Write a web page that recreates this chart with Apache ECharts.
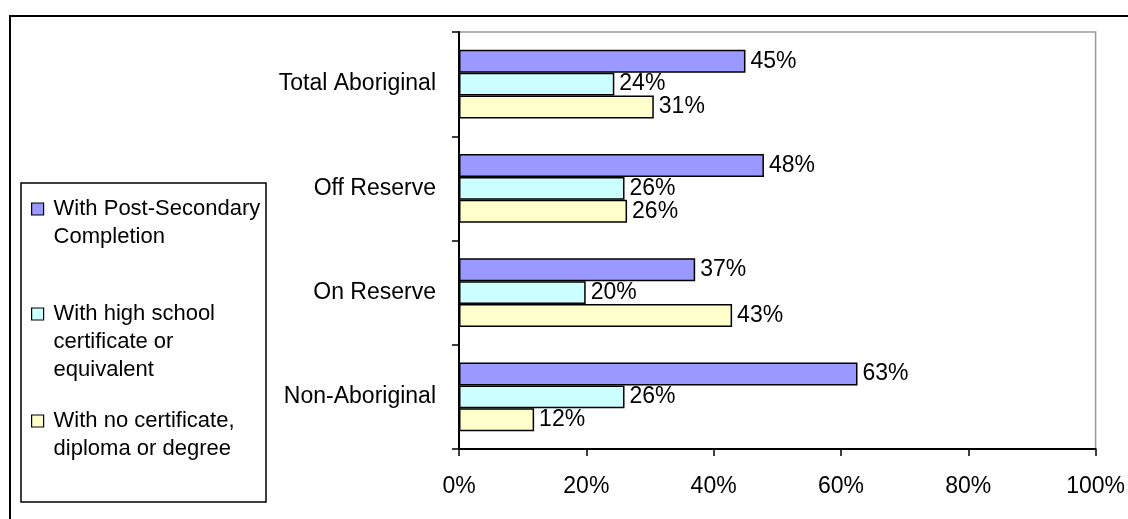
<!DOCTYPE html>
<html>
<head>
<meta charset="utf-8">
<script src="https://cdn.jsdelivr.net/npm/echarts@6/dist/echarts.min.js"></script>
<style>
  html, body { margin: 0; padding: 0; background: #fff; }
  #main { width: 1128px; height: 519px; }
</style>
</head>
<body>
<div id="main"></div>
<script>
var myChart = echarts.init(document.getElementById("main"));

// categories, top to bottom
var categories = ['Total Aboriginal', 'Off Reserve', 'On Reserve', 'Non-Aboriginal'];
var xTicks = [0, 20, 40, 60, 80, 100];

// percent values
var postSecondary = [45.0, 47.9, 37.1, 62.6];
var highSchool = [24.4, 26.0, 19.9, 26.0];
var noCertificate = [30.6, 26.4, 42.9, 11.8];

var seriesNames = [
    'With Post-Secondary\nCompletion',
    'With high school\ncertificate or\nequivalent',
    'With no certificate,\ndiploma or degree'
];
var colorList = ['#9999ff', '#ccffff', '#ffffcc'];

var fontName = '"Liberation Sans", Arial, sans-serif';
var fs = 23;

function makeSeries(i, values) {
    return {
        name: seriesNames[i],
        type: 'bar',
        data: values,
        barGap: '0%',
        barCategoryGap: '34%',
        itemStyle: {
            color: colorList[i],
            borderColor: '#000',
            borderWidth: 1.5
        },
        label: {
            show: true,
            position: 'right',
            distance: 5,
            color: '#000',
            fontSize: fs,
            fontFamily: fontName,
            formatter: function(p) {
                return Math.round(p.value) + '%';
            }
        },
        animation: false
    };
}

// one legend per entry; blank lines in front keep the icon on the first text line
var iconCenters = [209, 314, 421];
var lineH = 28;
var legends = seriesNames.map(function(name, i) {
    var lines = name.split('\n').length;
    return {
        orient: 'vertical',
        left: 31,
        top: iconCenters[i] - (2 * lines - 1) * lineH / 2,
        padding: 0,
        itemWidth: 12,
        itemHeight: 12,
        icon: 'rect',
        selectedMode: false,
        data: [{
            name: name,
            itemStyle: { color: colorList[i], borderColor: '#000', borderWidth: 1.2 }
        }],
        formatter: function(n) {
            return new Array(lines).join('\n') + n;
        },
        textStyle: {
            color: '#000',
            fontSize: 22,
            fontFamily: fontName,
            lineHeight: lineH,
            padding: [0, 0, 0, 5]
        }
    };
});

var option = {
    backgroundColor: '#fff',
    animation: false,
    graphic: [{
        // outer chart border, runs off the right and bottom edges
        type: 'rect',
        shape: { x: 10, y: 16, width: 1300, height: 700 },
        style: { fill: 'none', stroke: '#000', lineWidth: 2 },
        silent: true
    }, {
        // legend box
        type: 'rect',
        shape: { x: 21, y: 183, width: 245, height: 319 },
        style: { fill: 'none', stroke: '#000', lineWidth: 1.5 },
        silent: true
    }],
    legend: legends,
    grid: {
        left: 459,
        right: 31,
        top: 32,
        bottom: 70,
        show: true,
        borderColor: '#999',
        borderWidth: 1.5,
        backgroundColor: 'transparent'
    },
    xAxis: {
        type: 'value',
        min: xTicks[0],
        max: xTicks[xTicks.length - 1],
        interval: 20,
        axisLine: { show: true, lineStyle: { color: '#000', width: 2 } },
        axisTick: { show: true, length: 7, lineStyle: { color: '#000', width: 1.5 } },
        splitLine: { show: false },
        axisLabel: {
            color: '#000',
            fontSize: fs,
            fontFamily: fontName,
            margin: 26,
            formatter: '{value}%'
        }
    },
    yAxis: {
        type: 'category',
        inverse: true,
        data: categories,
        axisLine: { show: true, lineStyle: { color: '#000', width: 2 } },
        axisTick: { show: true, length: 7, lineStyle: { color: '#000', width: 1.5 } },
        axisLabel: {
            color: '#000',
            fontSize: fs,
            fontFamily: fontName,
            margin: 23
        }
    },
    series: [
        makeSeries(0, postSecondary),
        makeSeries(1, highSchool),
        makeSeries(2, noCertificate)
    ]
};

myChart.setOption(option);
</script>
</body>
</html>
